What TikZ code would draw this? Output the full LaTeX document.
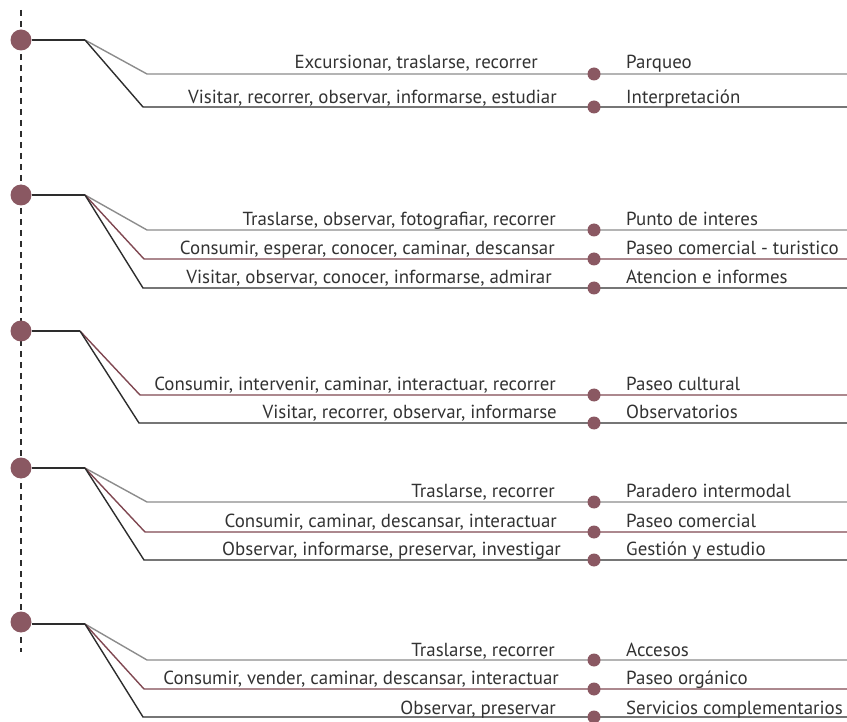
\documentclass[tikz,border=0pt]{standalone}
\usepackage{fontspec}
\setmainfont{PT Sans}
\definecolor{dotc}{RGB}{138,88,98}
\definecolor{linered}{RGB}{128,72,82}
\definecolor{linegray}{RGB}{140,140,140}
\definecolor{lineblack}{RGB}{45,45,45}
\definecolor{txt}{RGB}{50,50,50}
\newcommand{\mkrow}[9]{%
  \coordinate (#1-s) at (#4,#3);
  \coordinate (#1-e) at (847,#3);
  \draw[conn,#5] (#2) -- (#1-s) -- (#1-e);
  \node[smalldot] (#1-d) at (594,#3) {};
  \node[lbl,anchor=base east] (#1-l) at (#7,#3-#9) {#6};
  \node[lbl,anchor=base west] (#1-r) at (626,#3-#9) {#8};
}
\begin{document}
\begin{tikzpicture}[x=1pt,y=-1pt,
  bigdot/.style={circle,fill=dotc,inner sep=0pt,minimum size=21pt},
  smalldot/.style={circle,fill=dotc,inner sep=0pt,minimum size=13pt},
  lbl/.style={text=txt,font=\fontsize{18.9}{22}\selectfont,inner sep=0pt},
  conn/.style={line width=1.4pt},
  stem/.style={line width=1.4pt,lineblack}]
\useasboundingbox (0,0) rectangle (847,722);
\coordinate (top) at (21,10);
\coordinate (bot) at (21,652);
\draw[lineblack,line width=1.3pt,dash pattern=on 6pt off 5pt] (top) -- (bot);
% group 1
\coordinate (k1) at (85,40);
\mkrow{a1}{k1}{74}{147}{linegray}{Excursionar, traslarse, recorrer}{538}{Parqueo}{5.5}
\mkrow{a2}{k1}{107}{143}{lineblack}{Visitar, recorrer, observar, informarse, estudiar}{557}{Interpretación}{3.5}
% group 2
\coordinate (k2) at (85,195);
\mkrow{b1}{k2}{230}{147}{linegray}{Traslarse, observar, fotografiar, recorrer}{556}{Punto de interes}{4.5}
\mkrow{b2}{k2}{259}{144}{linered}{Consumir, esperar, conocer, caminar, descansar}{555}{Paseo comercial - turistico}{4.5}
\mkrow{b3}{k2}{288}{143}{lineblack}{Visitar, observar, conocer, informarse, admirar}{552}{Atencion e informes}{4.5}
% group 3
\coordinate (k3) at (80,331);
\mkrow{c1}{k3}{395}{140}{linered}{Consumir, intervenir, caminar, interactuar, recorrer}{556}{Paseo cultural}{4.5}
\mkrow{c2}{k3}{423}{139}{lineblack}{Visitar, recorrer, observar, informarse}{557}{Observatorios}{4.5}
% group 4
\coordinate (k4) at (85,468);
\mkrow{d1}{k4}{502}{147}{linegray}{Traslarse, recorrer}{555}{Paradero intermodal}{4.5}
\mkrow{d2}{k4}{532}{145}{linered}{Consumir, caminar, descansar, interactuar}{557}{Paseo comercial}{4.5}
\mkrow{d3}{k4}{560}{144}{lineblack}{Observar, informarse, preservar, investigar}{561}{Gestión y estudio}{4.5}
% group 5
\coordinate (k5) at (85,624);
\mkrow{e1}{k5}{660}{147}{linegray}{Traslarse, recorrer}{555}{Accesos}{4}
\mkrow{e2}{k5}{689}{144}{linered}{Consumir, vender, caminar, descansar, interactuar}{559}{Paseo orgánico}{4.5}
\mkrow{e3}{k5}{717}{143}{lineblack}{Observar, preservar}{556}{Servicios complementarios}{2.5}
% stems and big dots
\node[bigdot] (g1) at (21,40) {};
\node[bigdot] (g2) at (21,195) {};
\node[bigdot] (g3) at (21,331) {};
\node[bigdot] (g4) at (21,468) {};
\node[bigdot] (g5) at (21,622) {};
\draw[stem] (g1.east) -- (k1);
\draw[stem] (g2.east) -- (k2);
\draw[stem] (g3.east) -- (k3);
\draw[stem] (g4.east) -- (k4);
\draw[stem] (g5.east |- k5) -- (k5);
\end{tikzpicture}
\end{document}
